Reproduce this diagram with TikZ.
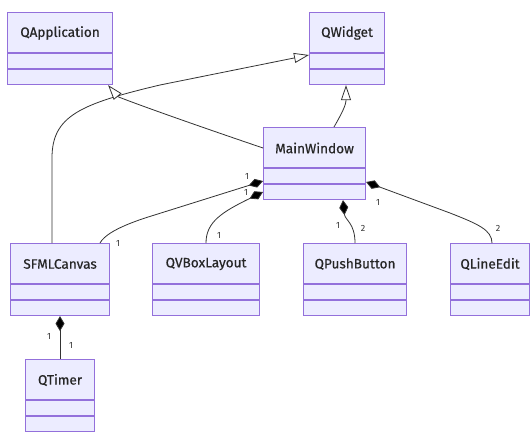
\documentclass[tikz,border=0pt]{standalone}
\usepackage{fontspec}
\setmainfont{Fira Sans}
\newfontfamily\clsfont[FakeBold=0.5]{Fira Sans}
\usetikzlibrary{arrows.meta,calc}
\definecolor{clsfill}{HTML}{ECECFF}
\definecolor{clsdraw}{HTML}{9370DB}
\definecolor{edgecol}{HTML}{333333}
\tikzset{
  clsbox/.style={draw=clsdraw, fill=clsfill, line width=1.1pt, inner sep=0pt, anchor=north west, minimum height=72},
  clsdiv/.style={draw=clsdraw, line width=1.1pt},
  clstext/.style={font=\clsfont\fontsize{13.6}{15}\selectfont, text=black!85, inner sep=0pt},
  edge/.style={draw=edgecol, line width=0.8pt},
  inh/.style={edge, -{Triangle[length=15pt,width=10pt,fill=white,line width=0.8pt]}},
  comp/.style={edge, {Diamond[length=15pt,width=9pt,fill=black]}-},
  mult/.style={font=\fontsize{9}{10}\selectfont, text=edgecol, inner sep=0pt},
}
\newcommand{\classbox}[5]{%
  \node[clsbox, minimum width=#4] (#1) at (#2,#3) {};
  \node[clstext] (#1-t) at ($(#1.north)+(0,21)$) {#5};
  \draw[clsdiv] ($(#1.north west)+(0,41)$) -- ($(#1.north east)+(0,41)$);
  \draw[clsdiv] ($(#1.north west)+(0,57)$) -- ($(#1.north east)+(0,57)$);
}
\begin{document}
\begin{tikzpicture}[x=1pt,y=-1pt]
\useasboundingbox[fill=white] (0,0) rectangle (530,431);
\classbox{qa}{7}{12}{105}{QApplication}
\classbox{qw}{309}{12}{75}{QWidget}
\classbox{mw}{263}{127}{102}{MainWindow}
\classbox{sf}{10}{243}{99}{SFMLCanvas}
\classbox{vb}{152}{243}{107}{QVBoxLayout}
\classbox{pb}{303}{243}{103}{QPushButton}
\classbox{le}{450}{243}{79}{QLineEdit}
\classbox{qt}{25}{359}{69}{QTimer}

% inheritance
\draw[inh] ($(sf.north west)+(42,0)$) -- ++(0,-85) .. controls +(0,-42) and (80,104) .. (160,85) -- ($(qw.north west)+(0,43)$);
\draw[inh] ($(mw.north west)+(0,21)$) .. controls (160,113) and (118,97) .. ($(qa.south east)+(-5,0)$);
\draw[inh] ($(mw.north west)+(71,0)$) .. controls +(8,-14) and +(0,20) .. ($(qw.south west)+(37,0)$);

% composition
\draw[comp] ($(mw.north west)+(0,54)$) -- (145,218) .. controls (115,228) and (104,236) .. ($(sf.north west)+(90,0)$);
\draw[comp] ($(mw.north west)+(0,65)$) .. controls (222,212) and (206,222) .. ($(vb.north west)+(54,0)$);
\draw[comp] ($(mw.south west)+(80,0)$) .. controls +(2,20) and +(0,-20) .. ($(pb.north west)+(52,0)$);
\draw[comp] ($(mw.north east)+(0,55)$) -- (450,213) .. controls (478,224) and (492,230) .. ($(le.north west)+(42,0)$);
\draw[comp] ($(sf.south west)+(50,0)$) -- ($(qt.north west)+(35,0)$);

% multiplicities
\node[mult] (m1) at (247,176) {1};
\node[mult] (m2) at (246,192) {1};
\node[mult] (m3) at (118,243) {1};
\node[mult] (m4) at (219,235) {1};
\node[mult] (m5) at (338,225) {1};
\node[mult] (m6) at (363,228) {2};
\node[mult] (m7) at (378,202) {1};
\node[mult] (m8) at (498,228) {2};
\node[mult] (m9) at (49,336) {1};
\node[mult] (m10) at (71,345) {1};
\end{tikzpicture}
\end{document}
